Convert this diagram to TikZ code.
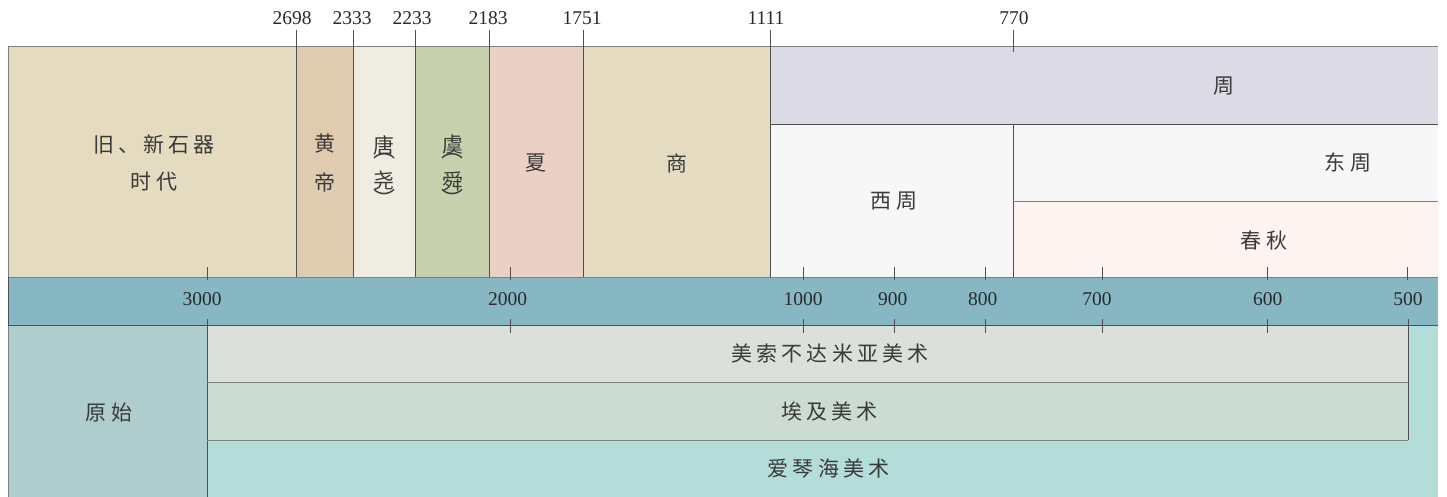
\documentclass[tikz,border=0pt]{standalone}
\usepackage{fontspec}
\setmainfont{Liberation Serif}
\newfontfamily\cjk[LetterSpace=20]{Noto Sans CJK SC}
\newfontfamily\cjkn{Noto Sans CJK SC}
\definecolor{cStone}{HTML}{E4DBC0}
\definecolor{cHuang}{HTML}{DFCCAF}
\definecolor{cTang}{HTML}{EFEDE2}
\definecolor{cYu}{HTML}{C8D1AE}
\definecolor{cXia}{HTML}{EBD0C6}
\definecolor{cZhou}{HTML}{DCDAE5}
\definecolor{cWest}{HTML}{F7F7F7}
\definecolor{cChun}{HTML}{FDF3F1}
\definecolor{cBand}{HTML}{86B7C3}
\definecolor{cPrim}{HTML}{AFCDCC}
\definecolor{cMeso}{HTML}{DBE0DA}
\definecolor{cEgy}{HTML}{CDDCD3}
\definecolor{cAeg}{HTML}{B4DCD8}
\definecolor{cLine}{HTML}{505050}
\definecolor{cLight}{HTML}{7F7F7F}
\definecolor{cText}{HTML}{3A3A3A}
\definecolor{cNum}{HTML}{2A2A2A}
\begin{document}
\begin{tikzpicture}[x=1pt,y=-1pt,
  num/.style={font=\fontsize{19.5}{20}\selectfont, text=cNum, inner sep=0pt},
  lab/.style={font=\cjk\fontsize{21}{24}\selectfont, text=cText, inner sep=0pt},
  vlab/.style={font=\cjkn\fontsize{21}{24}\selectfont, text=cText, inner sep=0pt},
  par/.style={font=\cjkn\fontsize{22}{24}\selectfont, text=cText, inner sep=0pt},
  divider/.style={draw=cLine, line width=0.8pt},
  soft/.style={draw=cLight, line width=0.8pt},
  tick/.style={draw=cLine, line width=0.8pt}]
\useasboundingbox (0,0) rectangle (1447,497);
% ---- fills, top row
\fill[cStone] (8,46) rectangle (296,277);
\fill[cHuang] (296,46) rectangle (353,277);
\fill[cTang] (353,46) rectangle (415,277);
\fill[cYu] (415,46) rectangle (489,277);
\fill[cXia] (489,46) rectangle (583,277);
\fill[cStone] (583,46) rectangle (770,277);
\fill[cZhou] (770,46) rectangle (1438,124);
\fill[cWest] (770,124) rectangle (1438,201);
\fill[cWest] (770,201) rectangle (1013,277);
\fill[cChun] (1013,201) rectangle (1438,277);
% ---- band
\fill[cBand] (8,277) rectangle (1438,325);
% ---- bottom row
\fill[cPrim] (8,325) rectangle (207,497);
\fill[cMeso] (207,325) rectangle (1408,382);
\fill[cEgy] (207,382) rectangle (1408,440);
\fill[cAeg] (207,440) rectangle (1438,497);
\fill[cAeg] (1408,325) rectangle (1438,440);
% ---- coordinates
\coordinate (tl) at (8,46);
\coordinate (tr) at (1438,46);
\coordinate (bl) at (8,497);
\foreach \x/\n in {296/a,353/b,415/c,489/d,583/e,770/f}{
  \coordinate (dt\n) at (\x,30);
  \coordinate (db\n) at (\x,277);
}
\coordinate (t770a) at (1013,30);
\coordinate (t770b) at (1013,52);
\coordinate (z1) at (770,124);
\coordinate (z2) at (1438,124);
\coordinate (w1) at (1013,124);
\coordinate (w2) at (1013,277);
\coordinate (c1) at (1013,201);
\coordinate (c2) at (1438,201);
\coordinate (b1) at (8,277);
\coordinate (b2) at (1438,277);
\coordinate (b3) at (8,325);
\coordinate (b4) at (1438,325);
\coordinate (p1) at (207,319);
\coordinate (p2) at (207,497);
\coordinate (m1) at (207,382);
\coordinate (m2) at (1408,382);
\coordinate (e1) at (207,440);
\coordinate (e2) at (1408,440);
\coordinate (r1) at (1408,319);
\coordinate (bb2) at (207,497);
% ---- lines
\draw[soft] (tl) -- (tr);
\draw[soft] (tl) -- (bl);
\draw[soft] (bl) -- (bb2);
\foreach \n in {a,b,c,d,e,f}{ \draw[divider] (dt\n) -- (db\n); }
\draw[tick] (t770a) -- (t770b);
\draw[divider] (z1) -- (z2);
\draw[divider] (w1) -- (w2);
\draw[soft] (c1) -- (c2);
\draw[soft] (b1) -- (b2);
\draw[divider] (b3) -- (b4);
\draw[divider] (b1) -- (b3);
\draw[divider] (p1) -- (p2);
\draw[soft] (m1) -- (m2);
\draw[soft] (e1) -- (e2);
\draw[divider] (r1) -- (e2);
% ---- band ticks
\foreach \x/\n in {207/k1,510/k2,803.7/k3,894.7/k4,985.7/k5,1102/k6,1267.7/k7,1407.7/k8}{
  \coordinate (\n u1) at (\x,267);
  \coordinate (\n u2) at (\x,280);
  \draw[tick] (\n u1) -- (\n u2);
}
\foreach \x/\n in {510/k2,803.7/k3,894.7/k4,985.7/k5,1102/k6,1267.7/k7}{
  \coordinate (\n l1) at (\x,319);
  \coordinate (\n l2) at (\x,333);
  \draw[tick] (\n l1) -- (\n l2);
}
% ---- top numbers
\node[num] (y2698) at (292,18.5) {2698};
\node[num] (y2333) at (352,18.5) {2333};
\node[num] (y2233) at (412,18.5) {2233};
\node[num] (y2183) at (488,18.5) {2183};
\node[num] (y1751) at (582,18.5) {1751};
\node[num] (y1111) at (766,18.5) {1111};
\node[num] (y770) at (1014,18.5) {770};
% ---- band numbers
\node[num] (s3000) at (202,299) {3000};
\node[num] (s2000) at (507.5,299) {2000};
\node[num] (s1000) at (803,299) {1000};
\node[num] (s900) at (892.7,299) {900};
\node[num] (s800) at (982.7,299) {800};
\node[num] (s700) at (1097,299) {700};
\node[num] (s600) at (1267.7,299) {600};
\node[num] (s500) at (1408,299) {500};
% ---- top labels
\node[lab] (stoneA) at (154,144) {旧、新石器};
\node[lab] (stoneB) at (154,182) {时代};
\node[vlab] (huang) at (324.5,144) {黄};
\node[vlab] (di) at (324.5,182) {帝};
\node[vlab] (tang) at (384,145) {唐};
\node[par] (tangL) at (384,156) {︵};
\node[vlab] (yao) at (384,181) {尧};
\node[par] (tangR) at (384,198) {︶};
\node[vlab] (yu) at (452.5,145) {虞};
\node[par] (yuL) at (452.5,156) {︵};
\node[vlab] (shun) at (452.5,181) {舜};
\node[par] (yuR) at (452.5,198) {︶};
\node[vlab] (xia) at (536,163) {夏};
\node[vlab] (shang) at (677,163) {商};
\node[vlab] (zhou) at (1224,86) {周};
\node[lab] (xizhou) at (894,201) {西周};
\node[lab] (dongzhou) at (1348,163) {东周};
\node[lab] (chunqiu) at (1264,241) {春秋};
% ---- bottom labels
\node[lab] (yuanshi) at (109,413) {原始};
\node[lab] (meso) at (830,353.5) {美索不达米亚美术};
\node[lab] (egypt) at (829.5,411) {埃及美术};
\node[lab] (aegean) at (828.5,468.5) {爱琴海美术};
\end{tikzpicture}
\end{document}
